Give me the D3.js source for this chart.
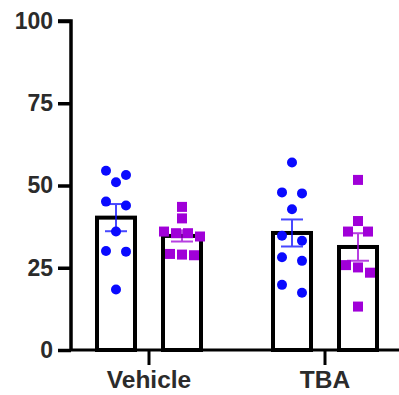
<!DOCTYPE html>
<html lang="en">
<head>
    <meta charset="UTF-8">
    <script src="https://d3js.org/d3.v7.min.js"></script>
    <style>
        body { margin: 0; background: #fff; }
        text { font-family: "Liberation Sans", Arial, sans-serif; font-weight: bold; fill: #2b2b2b; }
    </style>
</head>
<body>
    <div id="my_dataviz"></div>

    <script>
        // groups on the x axis and the two series inside each group
        var groups = ["Vehicle", "TBA"];
        var series = ["blue", "purple"];
        var yTicks = [0, 25, 50, 75, 100];

        // individual values
        var vehicleBlue = [54.5, 53.2, 51.0, 45.1, 43.9, 36.0, 30.1, 29.9, 18.4];
        var vehiclePurple = [43.5, 40.0, 36.0, 35.5, 34.5, 35.5, 29.0, 28.8, 29.2];
        var tbaBlue = [57.0, 47.9, 47.6, 42.8, 34.7, 33.2, 28.2, 27.1, 19.8, 17.4];
        var tbaPurple = [51.7, 39.2, 36.0, 36.0, 25.8, 23.5, 25.1, 13.2];

        var width = 399, height = 395;
        var margin = { top: 21, left: 71, bottom: 45 };
        var colors = { blue: "#0a0aff", purple: "#a000d8" };

        var cells = [
            { group: "Vehicle", s: "blue", values: vehicleBlue },
            { group: "Vehicle", s: "purple", values: vehiclePurple },
            { group: "TBA", s: "blue", values: tbaBlue },
            { group: "TBA", s: "purple", values: tbaPurple }
        ];
        cells.forEach(function (c) {
            c.mean = d3.mean(c.values);
            c.sem = d3.deviation(c.values) / Math.sqrt(c.values.length);
        });

        var svg = d3.select("#my_dataviz")
            .append("svg")
            .attr("width", width)
            .attr("height", height);

        var y = d3.scaleLinear()
            .domain([0, 100])
            .range([height - margin.bottom, margin.top]);

        var x = d3.scaleBand()
            .domain(groups)
            .range([61, 413]);

        var xSub = d3.scaleBand()
            .domain(series)
            .range([-66, 66]);

        var barW = 38;

        function cx(c) { return x(c.group) + x.bandwidth() / 2 + xSub(c.s) + xSub.bandwidth() / 2; }

        // bars
        svg.selectAll("rect.bar")
            .data(cells)
            .enter().append("rect")
            .attr("class", "bar")
            .attr("x", function (d) { return cx(d) - barW / 2; })
            .attr("y", function (d) { return y(d.mean); })
            .attr("width", barW)
            .attr("height", function (d) { return y(0) - y(d.mean); })
            .attr("fill", "#fff")
            .attr("stroke", "#000")
            .attr("stroke-width", 4);

        // error bars (mean +/- SEM)
        var err = svg.selectAll("g.err")
            .data(cells)
            .enter().append("g")
            .attr("stroke", function (d) { return colors[d.s]; })
            .attr("stroke-width", 2)
            .attr("opacity", 0.75);
        err.append("line")
            .attr("x1", cx).attr("x2", cx)
            .attr("y1", function (d) { return y(d.mean - d.sem); })
            .attr("y2", function (d) { return y(d.mean + d.sem); });
        [-1, 1].forEach(function (k) {
            err.append("line")
                .attr("x1", function (d) { return cx(d) - 11; })
                .attr("x2", function (d) { return cx(d) + 11; })
                .attr("y1", function (d) { return y(d.mean + k * d.sem); })
                .attr("y2", function (d) { return y(d.mean + k * d.sem); });
        });

        // points: values that sit close together share a row, centred on the bar
        function rows(c) {
            var out = [], row = [];
            c.values.slice().sort(d3.descending).forEach(function (v) {
                if (row.length && y(v) - y(row[0]) > 9) { out.push(row); row = []; }
                row.push(v);
            });
            if (row.length) out.push(row);
            var pts = [];
            out.forEach(function (r) {
                var step = r.length <= 2 ? 20 : 12;
                r.forEach(function (v, i) {
                    pts.push({ x: cx(c) + (i - (r.length - 1) / 2) * step, y: y(v), s: c.s });
                });
            });
            return pts;
        }
        var pts = [];
        cells.forEach(function (c) { pts = pts.concat(rows(c)); });

        svg.selectAll("circle.pt")
            .data(pts.filter(function (p) { return p.s === "blue"; }))
            .enter().append("circle")
            .attr("cx", function (d) { return d.x; })
            .attr("cy", function (d) { return d.y; })
            .attr("r", 5)
            .attr("fill", colors.blue);

        svg.selectAll("rect.pt")
            .data(pts.filter(function (p) { return p.s === "purple"; }))
            .enter().append("rect")
            .attr("x", function (d) { return d.x - 5; })
            .attr("y", function (d) { return d.y - 5; })
            .attr("width", 10)
            .attr("height", 10)
            .attr("fill", colors.purple);

        // y axis
        var yAxis = svg.append("g")
            .attr("transform", "translate(" + margin.left + ",0)")
            .call(d3.axisLeft(y).tickValues(yTicks).tickSize(13).tickPadding(5));
        yAxis.selectAll("line, path").attr("stroke", "#000").attr("stroke-width", 3.5);
        yAxis.select(".domain").attr("d", "M-13," + y(100) + "H0V" + y(0));
        yAxis.selectAll("text").style("font-size", "23px").attr("fill", "#2b2b2b");

        // x axis
        var xAxis = svg.append("g")
            .attr("transform", "translate(0," + y(0) + ")")
            .call(d3.axisBottom(x).tickSize(15).tickPadding(6));
        xAxis.selectAll("line").attr("stroke", "#000").attr("stroke-width", 3);
        xAxis.select(".domain").attr("d", "M" + margin.left + ",0H" + width).attr("stroke", "#000").attr("stroke-width", 3);
        xAxis.selectAll("text").style("font-size", "24.5px").attr("fill", "#2b2b2b");
    </script>
</body>
</html>
